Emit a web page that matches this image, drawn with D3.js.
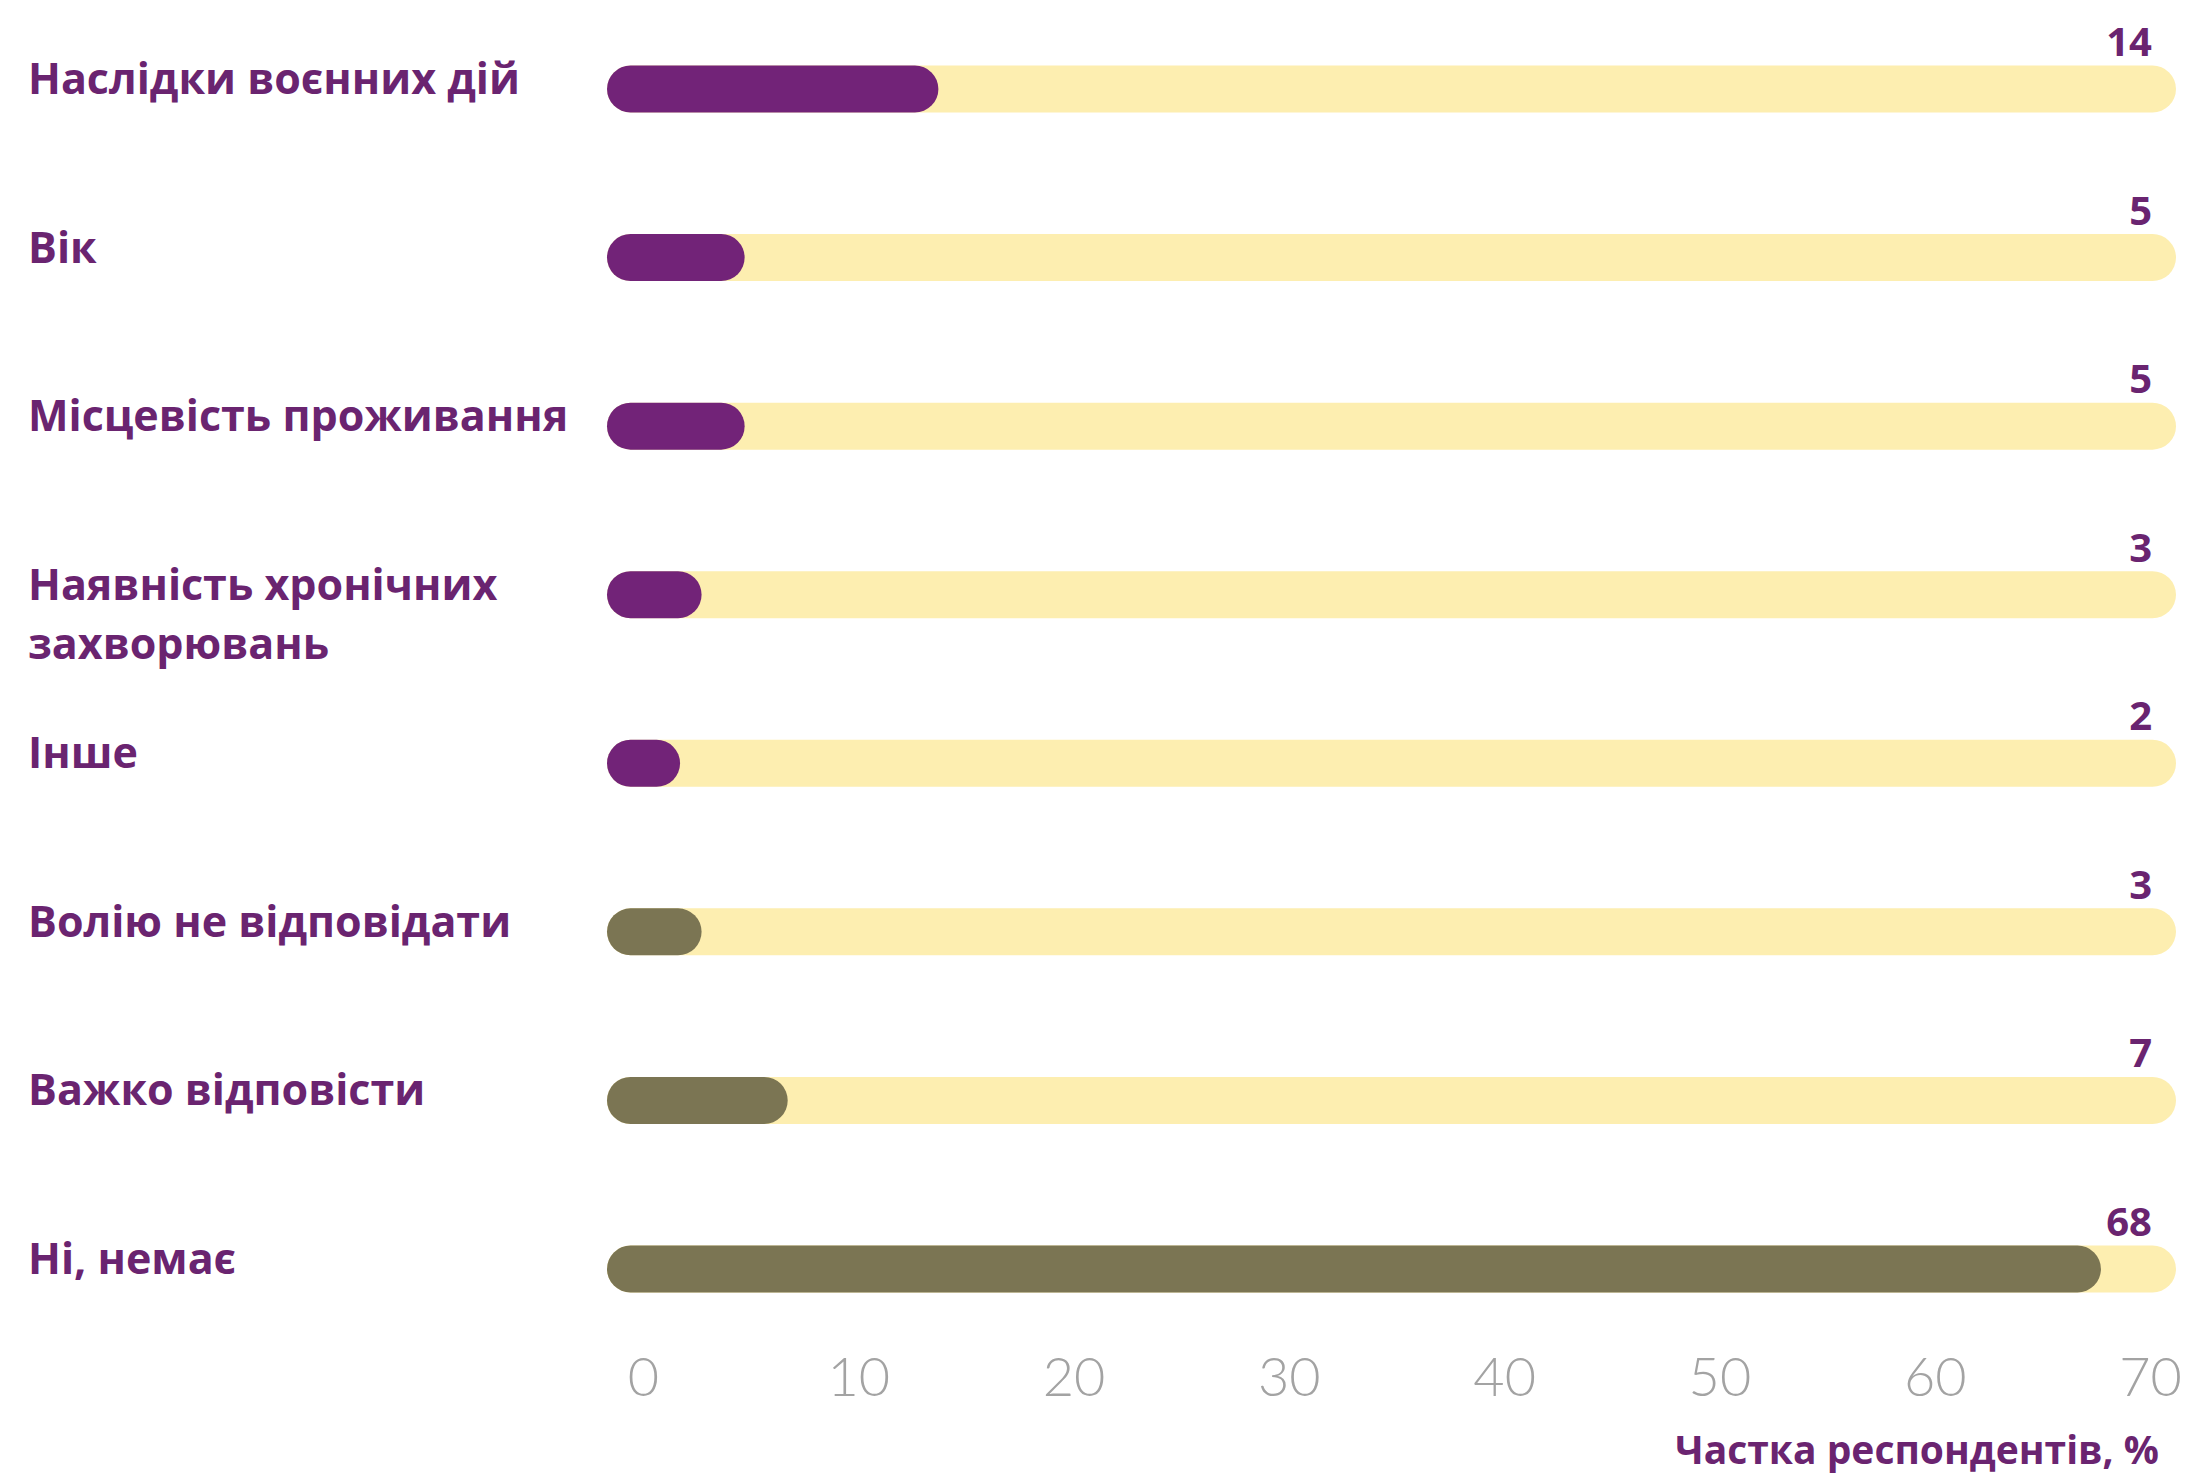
<!DOCTYPE html>
<html>
<head>
<meta charset="utf-8">
<script src="https://cdn.jsdelivr.net/npm/d3@7"></script>
<style>
  html, body { margin: 0; padding: 0; background: #fff; }
</style>
</head>
<body>
<svg id="chart"></svg>
<script>
// Дані
const categories = [
    "Наслідки воєнних дій",
    "Вік",
    "Місцевість проживання",
    "Наявність хронічних\nзахворювань",
    "Інше",
    "Волію не відповідати",
    "Важко відповісти",
    "Ні, немає"
];
const values = [14, 5, 5, 3, 2, 3, 7, 68];
const groups = ["так", "так", "так", "так", "так", "інше", "інше", "інше"];
const xTicks = [0, 10, 20, 30, 40, 50, 60, 70];
const axisTitle = "Частка респондентів, %";

const width = 2187, height = 1478;
const svg = d3.select("#chart")
    .attr("width", width)
    .attr("height", height);

const barH = 47;
const r = barH / 2;

const x = d3.scaleLinear()
    .domain([0, 70])
    .range([643, 2150]);

const y = d3.scalePoint()
    .domain(categories)
    .range([89, 1269]);

const color = d3.scaleOrdinal()
    .domain(["так", "інше"])
    .range(["#722378", "#7b7553"]);

const barStart = x(0) - 36;

const rows = categories.map((c, i) => ({ name: c, value: values[i], group: groups[i] }));

// Фонові доріжки
svg.selectAll("rect.track")
    .data(rows)
    .enter()
    .append("rect")
    .attr("class", "track")
    .attr("x", barStart)
    .attr("y", d => y(d.name) - r)
    .attr("width", x(70) + 26 - barStart)
    .attr("height", barH)
    .attr("rx", r)
    .attr("fill", "#fdeeb0");

// Бари
svg.selectAll("rect.bar")
    .data(rows)
    .enter()
    .append("rect")
    .attr("class", "bar")
    .attr("x", barStart)
    .attr("y", d => y(d.name) - r)
    .attr("width", d => Math.max(x(d.value) - 6 - barStart, barH + 14))
    .attr("height", barH)
    .attr("rx", r)
    .attr("fill", d => color(d.group));

// Значення
svg.selectAll("text.value")
    .data(rows)
    .enter()
    .append("text")
    .attr("class", "value")
    .attr("x", x(70) + 2)
    .attr("y", d => y(d.name) - 47)
    .attr("dy", "0.35em")
    .attr("text-anchor", "end")
    .attr("font-family", "'Open Sans', sans-serif")
    .attr("font-weight", 700)
    .attr("font-size", "40px")
    .attr("fill", "#6a2470")
    .text(d => d.value);

// Назви категорій
const labels = svg.selectAll("text.label")
    .data(rows)
    .enter()
    .append("text")
    .attr("class", "label")
    .attr("x", 28)
    .attr("y", d => y(d.name) - 10)
    .attr("font-family", "'Open Sans', sans-serif")
    .attr("font-weight", 700)
    .attr("font-size", "43px")
    .attr("fill", "#6a2470");

labels.selectAll("tspan")
    .data(d => d.name.split("\n"))
    .enter()
    .append("tspan")
    .attr("x", 28)
    .attr("dy", (d, i) => i === 0 ? "0.35em" : "59px")
    .text(d => d);

// Вісь X
const axis = svg.append("g")
    .attr("transform", "translate(0,1377)")
    .call(d3.axisBottom(x).tickValues(xTicks).tickSize(0).tickPadding(0));

axis.select(".domain").remove();
axis.selectAll("text")
    .attr("dy", "0.35em")
    .attr("font-family", "Lato, sans-serif")
    .attr("font-weight", 300)
    .attr("font-size", "54px")
    .attr("fill", "#a3a3a3");

svg.append("text")
    .attr("x", 2159)
    .attr("y", 1450)
    .attr("dy", "0.35em")
    .attr("text-anchor", "end")
    .attr("font-family", "'Open Sans', sans-serif")
    .attr("font-weight", 700)
    .attr("font-size", "39px")
    .attr("fill", "#6a2470")
    .text(axisTitle);
</script>
</body>
</html>
